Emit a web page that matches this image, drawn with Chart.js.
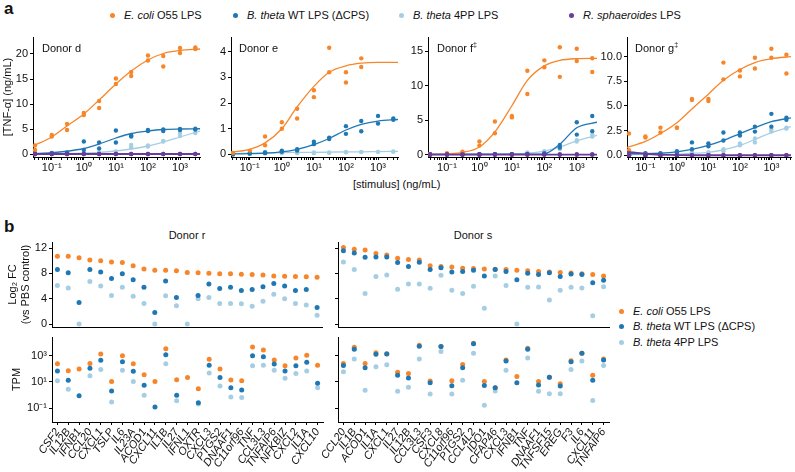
<!DOCTYPE html>
<html lang="en">
<head>
<meta charset="UTF-8">
<title>TNF-α dose response and LPS-induced genes</title>
<script src="https://cdn.jsdelivr.net/npm/chart.js"></script>
<style>
  body { margin: 0; background: #ffffff; }
  #fig { position: relative; width: 795px; height: 472px; overflow: hidden;
         font-family: 'Liberation Sans', Arial, sans-serif; color: #111; }
  #fig canvas { position: absolute; }
  .t { position: absolute; font-size: 11px; line-height: 12px; white-space: nowrap; }
  .lbl { position: absolute; font-size: 17px; font-weight: bold; line-height: 17px; }
  .dot { display: inline-block; width: 5px; height: 5px; border-radius: 50%; margin-right: 9px; vertical-align: 1px; }
  .ctr { transform: translateX(-50%); }
  sup { font-size: 7px; vertical-align: 5px; line-height: 0; }
</style>
</head>
<body>
<div id="fig">
  <div class="lbl" style="left:4px;top:0px">a</div>
  <div class="t" style="left:110px;top:9px"><span class="dot" style="background:#f7862a"></span><i>E. coli</i> O55 LPS</div>
  <div class="t" style="left:233px;top:9px"><span class="dot" style="background:#1f78b4"></span><i>B. theta</i> WT LPS (ΔCPS)</div>
  <div class="t" style="left:399px;top:9px"><span class="dot" style="background:#a6cee3"></span><i>B. theta</i> 4PP LPS</div>
  <div class="t" style="left:569px;top:9px"><span class="dot" style="background:#6a3d9a"></span><i>R. sphaeroides</i> LPS</div>

  <canvas id="cD" width="205" height="148" style="left:0px;top:30px"></canvas>
  <canvas id="cE" width="188" height="148" style="left:215px;top:30px"></canvas>
  <canvas id="cF" width="192" height="148" style="left:410px;top:30px"></canvas>
  <canvas id="cG" width="200" height="148" style="left:595px;top:30px"></canvas>

  <div class="t" style="left:42px;top:42px">Donor d</div>
  <div class="t" style="left:239px;top:42px">Donor e</div>
  <div class="t" style="left:437px;top:42px">Donor f<sup>‡</sup></div>
  <div class="t" style="left:635px;top:42px">Donor g<sup>‡</sup></div>
  <div class="t" style="left:353px;top:178px">[stimulus] (ng/mL)</div>

  <div class="lbl" style="left:4px;top:218px">b</div>
  <div class="t ctr" style="left:187px;top:229px">Donor r</div>
  <div class="t ctr" style="left:473px;top:229px">Donor s</div>

  <canvas id="cRfc" width="325" height="92" style="left:0px;top:238px"></canvas>
  <canvas id="cRtpm" width="332" height="138" style="left:0px;top:334px"></canvas>
  <canvas id="cSfc" width="298" height="92" style="left:314px;top:238px"></canvas>
  <canvas id="cStpm" width="305" height="138" style="left:314px;top:334px"></canvas>

  <div class="t" style="left:619px;top:305px"><span class="dot" style="background:#f7862a"></span><i>E. coli</i> O55 LPS</div>
  <div class="t" style="left:619px;top:320px"><span class="dot" style="background:#1f78b4"></span><i>B. theta</i> WT LPS (ΔCPS)</div>
  <div class="t" style="left:619px;top:336px"><span class="dot" style="background:#a6cee3"></span><i>B. theta</i> 4PP LPS</div>
</div>

<script>
// ---- panel a: doses and read-off values (two replicates per stimulus) ----
const doses = [0.03, 0.1, 0.3, 1, 3, 10, 30, 100, 300, 1000, 3000];
const fitDoses = [0.026, 0.1, 0.3, 1, 3, 10, 30, 100, 300, 1000, 4200];

const dEcoli = [[1.7, 3.8, 6.0, 8.2, 10.6, 15.1, 16.4, 19.7, 19.6, 21.2, 21.3],
                [0.8, 3.5, 4.8, 7.8, 9.2, 14.0, 15.6, 18.7, 17.5, 20.2, 21.0]];
const dEcoliFit = [1.6, 3.4, 5.6, 8.0, 10.8, 14.0, 16.6, 18.8, 20.1, 20.7, 21.0];
const dWt = [[0.1, 0.2, 0.3, 2.5, 2.3, 4.7, 3.7, 4.8, 4.9, 5.0, 5.0],
             [0.0, 0.1, 0.2, 0.8, 1.1, 2.3, 3.5, 4.6, 4.6, 4.8, 4.9]];
const dWtFit = [0.1, 0.25, 0.55, 1.1, 2.0, 3.2, 4.1, 4.6, 4.9, 5.0, 5.05];
const dPp = [[0.1, 0.1, 0.1, 0.2, 0.3, 0.5, 1.8, 1.7, 2.6, 4.2, 5.1],
             [0.0, 0.0, 0.0, 0.0, 0.2, 0.4, 1.3, 1.5, 2.5, 3.6, 4.2]];
const dPpFit = [0.0, 0.02, 0.05, 0.15, 0.3, 0.6, 1.0, 1.6, 2.4, 3.4, 4.6];
const dRs = [[0, 0, 0, 0, 0, 0, 0, 0, 0, 0, 0], [0, 0, 0, 0, 0, 0, 0, 0, 0, 0, 0]];
const dRsFit = [0, 0, 0, 0, 0, 0, 0, 0, 0, 0, 0];

const eEcoli = [[0.06, 0.15, 0.7, 1.25, 1.78, 2.5, 4.15, 3.2, 3.74, null, null],
                [null, null, 0.36, 1.0, 1.4, 2.23, 3.2, 2.8, 3.4, null, null]];
const eEcoliFit = [0.09, 0.2, 0.45, 1.0, 1.85, 2.65, 3.2, 3.45, 3.55, 3.58, 3.58];
const eWt = [[0.03, 0.05, 0.08, 0.15, 0.2, 0.5, 0.65, 1.1, 1.3, 1.5, 1.4],
             [0.0, 0.03, 0.05, 0.1, 0.15, 0.4, 0.6, 0.8, 0.9, 1.2, 1.35]];
const eWtFit = [0.02, 0.03, 0.05, 0.1, 0.2, 0.38, 0.62, 0.95, 1.17, 1.3, 1.36];
const ePp = [[0.05, 0.06, 0.1, 0.12, 0.1, 0.08, 0.08, 0.1, 0.1, 0.1, 0.12],
             [0.02, 0.03, 0.05, 0.05, 0.05, 0.05, 0.06, 0.08, 0.09, 0.1, 0.1]];
const ePpFit = [0.04, 0.05, 0.06, 0.07, 0.08, 0.08, 0.09, 0.1, 0.1, 0.11, 0.12];

const fEcoli = [[0.0, 0.2, 0.4, 1.9, 4.8, 5.6, 12.2, 13.7, 15.6, 15.4, 14.0],
                [0.0, 0.1, 0.3, 1.3, 3.1, 5.4, 8.8, 12.7, 11.3, 13.6, 12.0]];
const fEcoliFit = [0.0, 0.1, 0.3, 1.1, 3.3, 7.1, 10.8, 12.9, 13.7, 13.95, 14.0];
const fWt = [[0.05, 0.05, 0.05, 0.05, 0.05, 0.05, 0.1, 0.2, 1.4, 4.7, 5.6],
             [0.0, 0.0, 0.0, 0.0, 0.0, 0.0, 0.05, 0.1, 1.0, 2.9, 3.4]];
const fWtFit = [0.05, 0.05, 0.05, 0.05, 0.05, 0.05, 0.05, 0.1, 1.5, 3.9, 4.7];
const fPp = [[0.1, 0.05, 0.05, 0.05, 0.1, 0.1, 0.3, 0.5, 1.0, 2.1, 2.9],
             [0.0, 0.0, 0.0, 0.0, 0.0, 0.05, 0.2, 0.4, 0.8, 1.9, 2.6]];
const fPpFit = [0.0, 0.0, 0.0, 0.01, 0.02, 0.05, 0.2, 0.5, 1.1, 2.0, 2.8];
const fRs = [[0, 0, 0, 0, 0, 0, 0, 0, 0, 0, 0], [0, 0, 0, 0, 0, 0, 0, 0, 0, 0, 0]];
const fRsFit = [0, 0, 0, 0, 0, 0, 0, 0, 0, 0, 0];

const gEcoli = [[2.2, 1.9, 2.8, 2.8, 5.7, 5.7, 9.4, 8.6, 9.9, 10.8, 10.2],
                [0.5, 1.8, 2.3, 2.8, 5.6, 5.5, 7.7, 8.0, 8.8, 9.9, 8.3]];
const gEcoliFit = [0.8, 1.4, 2.2, 3.3, 4.7, 6.2, 7.6, 8.7, 9.4, 9.8, 10.0];
const gWt = [[0.2, 0.2, 0.2, 0.4, 1.3, 1.2, 2.3, 2.3, 2.9, 4.2, 3.8],
             [0.1, 0.15, 0.15, 0.3, 0.6, 0.9, 1.5, 2.0, 2.4, 2.9, 3.6]];
const gWtFit = [0.15, 0.15, 0.2, 0.35, 0.6, 1.0, 1.5, 2.2, 2.8, 3.4, 3.8];
const gPp = [[0.05, 0.05, 0.1, 0.1, 0.3, 0.3, 0.6, 1.2, 1.7, 2.6, 2.8],
             [0.0, 0.02, 0.05, 0.05, 0.1, 0.2, 0.4, 1.0, 1.3, 2.4, 2.7]];
const gPpFit = [0.05, 0.06, 0.08, 0.1, 0.18, 0.3, 0.55, 1.0, 1.6, 2.3, 2.9];
const gRs = [[0, 0, 0, 0, 0, 0, 0, 0, 0, 0, 0], [0, 0, 0, 0, 0, 0, 0, 0, 0, 0, 0]];
const gRsFit = [0.35, 0.15, 0.05, 0.02, 0, 0, 0, 0, 0, 0, 0];

// ---- panel b: genes, log2 fold change and TPM ----
const genesR = ['CSF2', 'IL12B', 'IFNB1', 'CCL20', 'CXCL1', 'TSLP', 'IL6', 'IL23A', 'ACOD1', 'CXCL11',
                'IL1B', 'IL27', 'IFNL1', 'OXTR', 'CXCL3', 'PTGS2', 'DNAAF1', 'C11orf96', 'TNF', 'CCL3L3',
                'TNFAIP6', 'NFKBIZ', 'CXCL2', 'IL1A', 'CXCL10'];
const fcR_ecoli = [10.7, 10.7, 10.45, 10.1, 10.0, 9.8, 9.7, 9.2, 8.7, 8.5, 8.5, 8.4, 8.15, 8.1, 8.0,
                   7.95, 7.95, 7.85, 7.8, 7.75, 7.6, 7.55, 7.5, 7.45, 7.4];
const fcR_wt = [8.6, 8.1, 3.4, 8.6, 8.2, 7.2, 7.95, 7.0, 5.8, 1.8, 6.8, 4.2, null, 4.5, 6.3,
                5.6, 5.8, 5.3, 5.45, 5.9, 6.4, 6.0, 5.3, 5.45, 2.6];
const fcR_pp = [6.1, 5.7, 0, 6.7, 6.0, 4.5, 5.8, 4.4, 3.25, 0, 4.45, 2.9, 0, 4.0, 4.2,
                3.25, 3.25, 3.2, 2.8, 3.6, 4.7, 4.0, 3.25, 3.0, 1.4];
const tpmR_ecoli = [245, 72, 98, 260, 1350, 10.7, 1000, 245, 36, 10.7, 3400, 15, 22, 3.1, 525,
                    98, 14, 12.5, 4550, 2700, 470, 173, 665, 1060, 185];
const tpmR_wt = [69, 13.5, 0.9, 110, 445, 2.1, 350, 65, 5.6, 0.126, 1200, 0.98, null, 0.27, 185,
                 22, 3.7, 2.5, 1000, 840, 233, 69, 173, 310, 7.9];
const tpmR_pp = [12.6, 2.75, null, 30, 91, 0.3, 77, 11, 1.0, null, 245, 0.38, null, 0.21, 48,
                 5.0, 0.72, 0.65, 173, 185, 77, 19, 45, 69, 3.7];

const genesS = ['CCL20', 'IL1B', 'ACOD1', 'IL1A', 'CXCL1', 'IL27', 'IL12B', 'CCL3L3', 'CSF3', 'CXCL8',
                'C11orf96', 'PTGS2', 'CCL4L2', 'IDO1', 'CFAP46', 'CXCL3', 'IFNB1', 'TNF', 'DNAAF1', 'TNFSF15',
                'EREG', 'F3', 'IL6', 'CXCL11', 'TNFAIP6'];
const fcS_ecoli = [12.1, 11.8, 11.7, 11.15, 10.9, 10.4, 10.2, 10.1, 9.2, 9.1, 9.0, 8.8, 8.75, 8.7, 8.65,
                   8.6, 8.5, 8.4, 8.3, 8.2, 8.15, 8.05, 7.95, 7.8, 7.6];
const fcS_wt = [11.55, 11.2, 10.55, 10.6, 10.6, 9.7, 9.1, 9.75, 8.6, 8.9, 8.2, 8.3, 8.5, 7.6, 8.6,
                8.3, 7.0, 8.0, 7.8, 8.1, 7.5, 7.9, 7.8, 6.5, 6.9];
const fcS_pp = [9.8, 8.6, 4.8, 7.5, 7.75, 5.5, 6.3, 6.3, 5.65, 7.7, 5.35, 4.8, 5.95, 2.5, 7.6,
                6.1, 0, 5.8, 5.85, 3.8, 5.35, 5.8, 5.7, 1.3, 5.9];
const tpmS_ecoli = [257, 4365, 257, 1700, 1410, 55, 44, 6170, 12, 4900, 12.6, 214, 8900, 10.7, 3.6,
                    468, 26, 3630, 10.7, 23, 7.4, 417, 1510, 32, 550];
const tpmS_wt = [182, 3090, 120, 1260, 1350, 32, 20, 5250, 8.9, 4900, 5.2, 120, 7940, 5.5, 3.6,
                 390, 8.9, 3090, 5.9, 23, 4.9, 347, 1510, 13.5, 468];
const tpmS_pp = [59, 550, 2.4, 141, 204, 2.0, 3.9, 550, 1.2, 2040, 1.2, 13.5, 1510, 0.17, 2.1,
                 79, null, 660, 2.0, 1.26, 1.26, 89, 390, 0.39, 182];

// ---- styling ----
const FONT = "'Liberation Sans', Arial, sans-serif";
const COL = { ecoli: '#f7862a', wt: '#1f78b4', pp: '#a6cee3', rs: '#6a3d9a' };
const xMin = 0.026, xMax = 4200;

// log tick marks 1..9 x 10^n inside the range, labels only on decades
const xTickVals = [];
for (let e = -2; e <= 3; e++) {
  for (let k = 1; k <= 9; k++) {
    const v = +(k * Math.pow(10, e)).toPrecision(3);
    if (v >= xMin && v <= xMax) xTickVals.push(v);
  }
}
const supChars = { '-': '⁻', '0': '⁰', '1': '¹', '2': '²', '3': '³', '4': '⁴' };
function decadeLabel(v) {
  const e = Math.log10(v);
  if (Math.abs(e - Math.round(e)) > 1e-6) return '';
  return '10' + String(Math.round(e)).split('').map(c => supChars[c]).join('');
}

function pts(reps) {
  const out = [];
  reps.forEach(r => r.forEach((v, i) => { if (v !== null) out.push({ x: doses[i], y: v }); }));
  return out;
}
function curve(vals) {
  return vals.map((v, i) => ({ x: fitDoses[i], y: v }));
}

const base = {
  responsive: false, animation: false, events: [],
  plugins: { legend: { display: false }, tooltip: { enabled: false } }
};
const gridStyle = { drawOnChartArea: false, color: '#000', tickColor: '#000', tickLength: 3, lineWidth: 1 };
const borderStyle = { color: '#000', width: 1 };

function doseChart(id, series, cfg) {
  const datasets = [];
  const order = { rs: 0, ecoli: 2, wt: 4, pp: 6 };
  series.forEach(([key, reps, fit]) => {
    datasets.push({ data: curve(fit), showLine: true, pointRadius: 0, borderColor: COL[key],
                    borderWidth: key === 'rs' ? 1.8 : 1.3, cubicInterpolationMode: 'monotone', order: order[key] });
    datasets.push({ data: pts(reps), showLine: false, pointRadius: 2.2, pointBorderWidth: 0,
                    backgroundColor: COL[key], order: order[key] + 1 });
  });
  new Chart(document.getElementById(id), {
    type: 'scatter',
    data: { datasets },
    options: Object.assign({}, base, {
      layout: { padding: { left: 0, right: cfg.padR, top: 7, bottom: 0 } },
      scales: {
        x: {
          type: 'logarithmic', min: xMin, max: xMax,
          afterBuildTicks: s => { s.ticks = xTickVals.map(v => ({ value: v })); },
          afterFit: s => { s.height = 21; s.paddingLeft = 0; s.paddingRight = 0; },
          ticks: { autoSkip: false, maxRotation: 0, color: '#111', padding: 1,
                   font: { family: FONT, size: 11 }, callback: v => decadeLabel(v) },
          grid: gridStyle, border: borderStyle
        },
        y: {
          min: cfg.yMin, max: cfg.yMax,
          afterBuildTicks: s => { s.ticks = cfg.yTicks.map(v => ({ value: v })); },
          afterFit: s => { s.width = cfg.yW; s.paddingTop = 0; s.paddingBottom = 0; },
          ticks: { color: '#111', padding: 2, font: { family: FONT, size: 11 },
                   callback: v => cfg.dec ? v.toFixed(1) : String(v) },
          grid: gridStyle, border: borderStyle,
          title: { display: !!cfg.title, text: cfg.title, color: '#111',
                   font: { family: FONT, size: 11 }, padding: { top: 1, bottom: 0 } }
        }
      }
    })
  });
}

doseChart('cD', [['pp', dPp, dPpFit], ['wt', dWt, dWtFit], ['ecoli', dEcoli, dEcoliFit], ['rs', dRs, dRsFit]],
  { yMin: -0.6, yMax: 23.4, yTicks: [0, 5, 10, 15, 20], yW: 33, padR: 5, title: '[TNF-α] (ng/mL)' });
doseChart('cE', [['pp', ePp, ePpFit], ['wt', eWt, eWtFit], ['ecoli', eEcoli, eEcoliFit]],
  { yMin: -0.1, yMax: 4.57, yTicks: [0, 1, 2, 3, 4], yW: 16, padR: 5 });
doseChart('cF', [['pp', fPp, fPpFit], ['wt', fWt, fWtFit], ['ecoli', fEcoli, fEcoliFit], ['rs', fRs, fRsFit]],
  { yMin: -0.36, yMax: 17.1, yTicks: [0, 5, 10, 15], yW: 18, padR: 5 });
doseChart('cG', [['pp', gPp, gPpFit], ['wt', gWt, gWtFit], ['ecoli', gEcoli, gEcoliFit], ['rs', gRs, gRsFit]],
  { yMin: -0.18, yMax: 12.0, yTicks: [0, 2.5, 5, 7.5, 10], yW: 32, padR: 0, dec: true });

// ---- panel b charts ----
function geneSets(ecoli, wt, pp) {
  return [
    { data: pp, pointBackgroundColor: COL.pp, order: 3 },
    { data: ecoli, pointBackgroundColor: COL.ecoli, order: 2 },
    { data: wt, pointBackgroundColor: COL.wt, order: 1 }
  ].map(d => Object.assign({ showLine: false, pointRadius: 2.5, pointBorderWidth: 0,
                             pointHoverRadius: 0, clip: false }, d));
}

function geneChart(id, genes, sets, cfg) {
  const isTpm = cfg.kind === 'tpm';
  const tpmLabels = { 0.1: '10⁻¹', 10: '10¹', 1000: '10³' };
  new Chart(document.getElementById(id), {
    type: 'line',
    data: { labels: genes, datasets: sets },
    options: Object.assign({}, base, {
      layout: { padding: { left: 0, right: cfg.padR, top: cfg.padT, bottom: 0 } },
      scales: {
        x: {
          type: 'category', offset: true,
          afterFit: s => { s.height = isTpm ? 50 : 3; s.paddingLeft = 0; s.paddingRight = 0; },
          ticks: isTpm
            ? { autoSkip: false, minRotation: 55, maxRotation: 55, color: '#111', padding: 1,
                font: { family: FONT, size: 11, style: 'italic' } }
            : { display: false },
          grid: isTpm ? gridStyle : Object.assign({}, gridStyle, { drawTicks: false }),
          border: borderStyle
        },
        y: isTpm ? {
          type: 'logarithmic', min: 0.0091, max: 26300,
          afterBuildTicks: s => { s.ticks = [0.1, 10, 1000].map(v => ({ value: v })); },
          afterFit: s => { s.width = cfg.yW; s.paddingTop = 0; s.paddingBottom = 0; },
          ticks: { color: '#111', padding: 2, font: { family: FONT, size: 11 },
                   callback: v => cfg.labels ? (tpmLabels[v] || '') : '' },
          grid: gridStyle, border: borderStyle,
          title: { display: cfg.labels, text: 'TPM', color: '#111',
                   font: { family: FONT, size: 11 }, padding: { top: 10, bottom: 0 } }
        } : {
          min: -0.47, max: 12.95,
          afterBuildTicks: s => { s.ticks = [0, 4, 8, 12].map(v => ({ value: v })); },
          afterFit: s => { s.width = cfg.yW; s.paddingTop = 0; s.paddingBottom = 0; },
          ticks: { color: '#111', padding: 2, font: { family: FONT, size: 11 },
                   callback: v => cfg.labels ? String(v) : '' },
          grid: gridStyle, border: borderStyle,
          title: { display: cfg.labels, text: ['Log₂ FC', '(vs PBS control)'], color: '#111',
                   font: { family: FONT, size: 11 }, padding: { top: 6, bottom: 0 } }
        }
      }
    })
  });
}

geneChart('cRfc', genesR, geneSets(fcR_ecoli, fcR_wt, fcR_pp), { kind: 'fc', yW: 52, padR: 2, padT: 4, labels: true });
geneChart('cRtpm', genesR, geneSets(tpmR_ecoli, tpmR_wt, tpmR_pp), { kind: 'tpm', yW: 52, padR: 9, padT: 3, labels: true });
geneChart('cSfc', genesS, geneSets(fcS_ecoli, fcS_wt, fcS_pp), { kind: 'fc', yW: 24, padR: 3, padT: 4, labels: false });
geneChart('cStpm', genesS, geneSets(tpmS_ecoli, tpmS_wt, tpmS_pp), { kind: 'tpm', yW: 24, padR: 10, padT: 3, labels: false });
</script>
</body>
</html>
